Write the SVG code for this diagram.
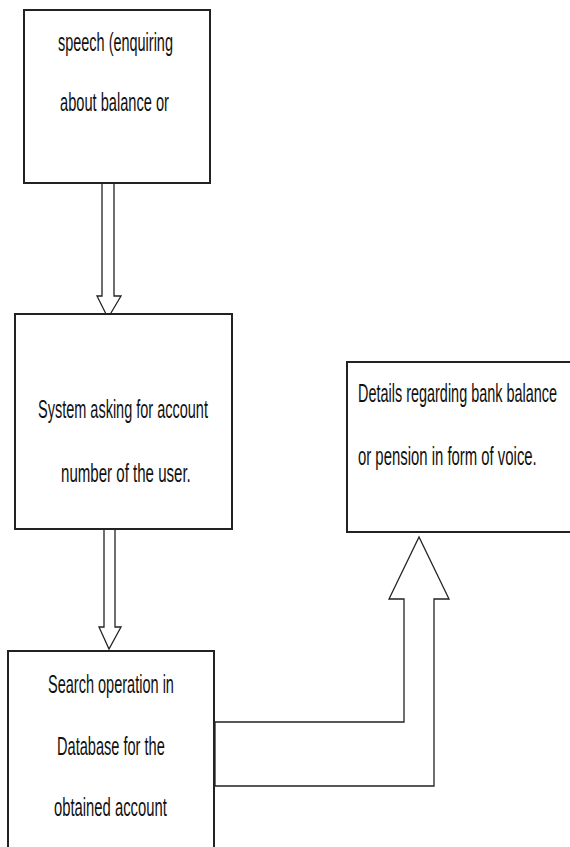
<svg xmlns="http://www.w3.org/2000/svg" width="570" height="847" viewBox="0 0 570 847">
<style>
.box{fill:#fff;stroke:#222;stroke-width:2}
.arr{fill:#fff;stroke:#222;stroke-width:1.3;stroke-linejoin:miter}
text{font-family:"Liberation Sans",Arial,sans-serif;font-size:26px;fill:#111}
</style>
<rect width="570" height="847" fill="#fff"/>
<g id="connectors">
<path class="arr" d="M102,183 V296 H97 L108,318 L121,296 H114 V183"/>
<path class="arr" d="M104,529 V627 H99 L109,649 L121,627 H115 V529"/>
<path class="arr" d="M215,722 H404 V599 H389 L419,537 L449,599 H434 V786 H215 Z"/>
</g>
<g id="node1">
<rect class="box" x="24" y="10" width="186" height="173"/>
<text transform="translate(58,51) scale(0.55,1)" textLength="209" lengthAdjust="spacingAndGlyphs">speech (enquiring</text>
<text transform="translate(60,111) scale(0.55,1)" textLength="198" lengthAdjust="spacingAndGlyphs">about balance or</text>
</g>
<g id="node2">
<rect class="box" x="15" y="314" width="217" height="215"/>
<text transform="translate(38,418) scale(0.55,1)" textLength="309" lengthAdjust="spacingAndGlyphs">System asking for account</text>
<text transform="translate(61,482) scale(0.55,1)" textLength="236" lengthAdjust="spacingAndGlyphs">number of the user.</text>
</g>
<g id="node3">
<rect class="box" x="347" y="362" width="224" height="170"/>
<text transform="translate(358,402) scale(0.55,1)" textLength="362" lengthAdjust="spacingAndGlyphs">Details regarding bank balance</text>
<text transform="translate(358,465) scale(0.55,1)" textLength="325" lengthAdjust="spacingAndGlyphs">or pension in form of voice.</text>
</g>
<g id="node4">
<rect class="box" x="8" y="651" width="206" height="210"/>
<text transform="translate(48,693) scale(0.55,1)" textLength="229" lengthAdjust="spacingAndGlyphs">Search operation in</text>
<text transform="translate(57,755) scale(0.55,1)" textLength="196" lengthAdjust="spacingAndGlyphs">Database for the</text>
<text transform="translate(54,816) scale(0.55,1)" textLength="205" lengthAdjust="spacingAndGlyphs">obtained account</text>
</g>
</svg>
